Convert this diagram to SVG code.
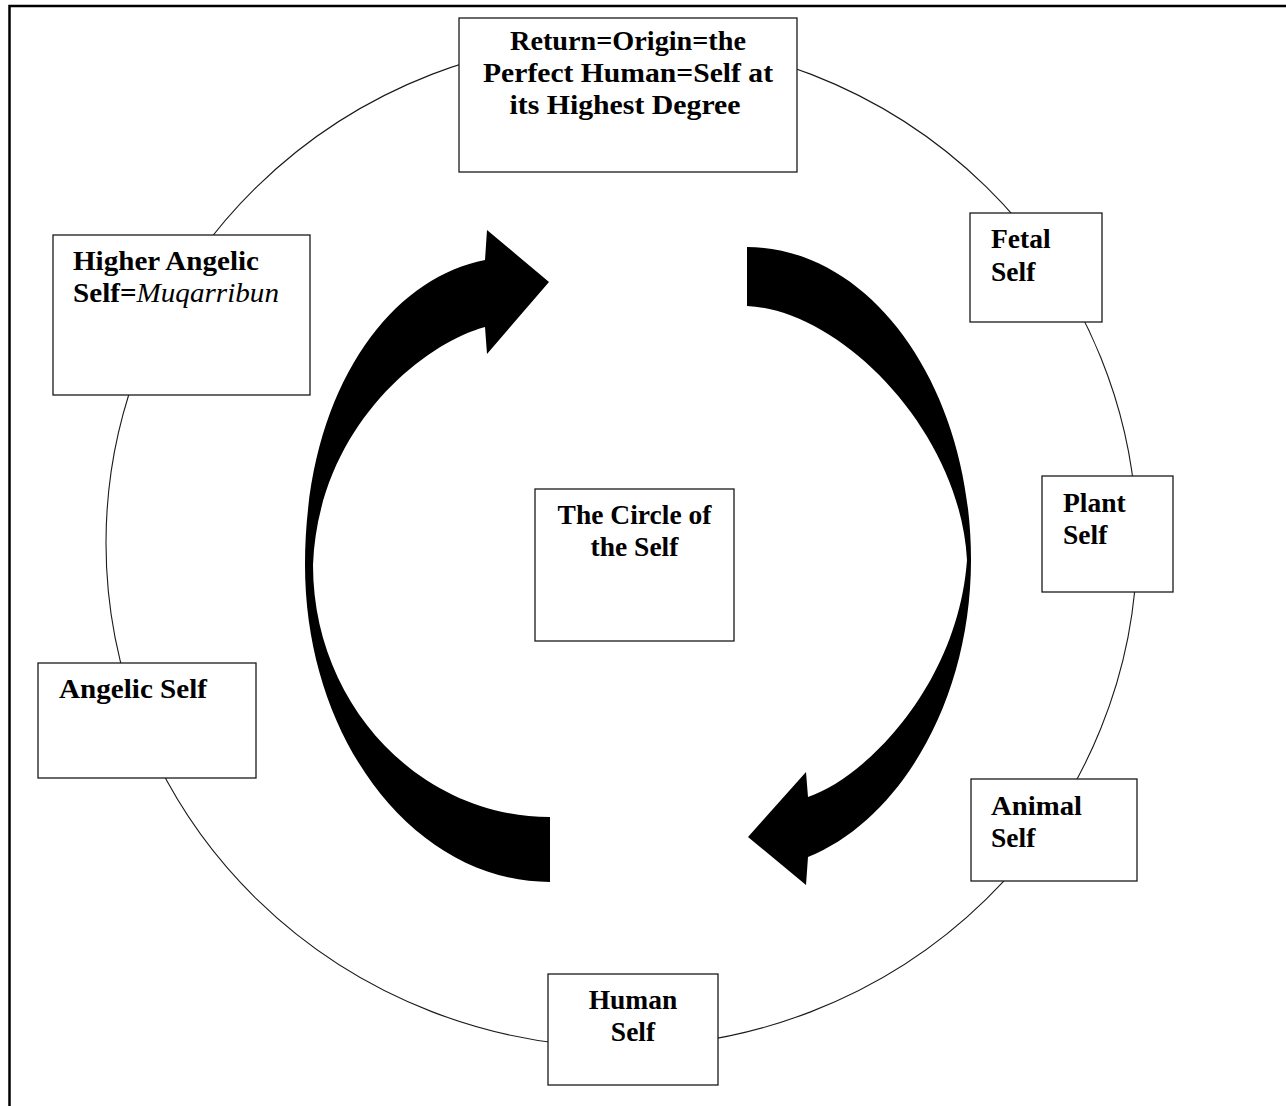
<svg xmlns="http://www.w3.org/2000/svg" width="1286" height="1106" viewBox="0 0 1286 1106">
<style>
.box{fill:#fff;stroke:#1a1a1a;stroke-width:1.3}
.t{font-family:"Liberation Serif","Times New Roman",serif;font-weight:bold;font-size:27.5px;fill:#000}
.c{text-anchor:middle}
.it{font-style:italic;font-weight:normal}
.ring{fill:none;stroke:#1a1a1a;stroke-width:1.1}
.arrow{fill:#000}
</style>
<rect width="1286" height="1106" fill="#fff"/>
<path d="M9.5,1106 V6 H1286" fill="none" stroke="#000" stroke-width="2.5"/>
<g id="connectors">
  <ellipse class="ring" cx="621.5" cy="543" rx="515.5" ry="504"/>
  <path class="arrow" d="M550,817 L550,882 C415,882 305,740 305,565 C305,390 390,278 485,260 L487,230 L549,282 L487,354 L485,327 C420,345 318,430 313,565 C313,704 419,817 550,817 Z"/>
  <path class="arrow" d="M747,247 C871,247 971,387 971,560 C971,700 900,820 808,857 L806,885 L748,837 L806,772 L808,797 C865,778 958,685 967,560 C960,430 840,310 747,306 Z"/>
</g>
<g id="node-return">
  <rect class="box" x="459" y="18" width="338" height="154"/>
  <text class="t c" x="628" y="50" textLength="236" lengthAdjust="spacingAndGlyphs">Return=Origin=the</text>
  <text class="t c" x="628" y="82" textLength="290" lengthAdjust="spacingAndGlyphs">Perfect Human=Self at</text>
  <text class="t c" x="625" y="114" textLength="231" lengthAdjust="spacingAndGlyphs">its Highest Degree</text>
</g>
<g id="node-higher-angelic">
  <rect class="box" x="53" y="235" width="257" height="160"/>
  <text class="t" x="73" y="270" textLength="186" lengthAdjust="spacingAndGlyphs">Higher Angelic</text>
  <text class="t" x="73" y="302" textLength="206" lengthAdjust="spacingAndGlyphs">Self=<tspan class="it">Muqarribun</tspan></text>
</g>
<g id="node-fetal">
  <rect class="box" x="970" y="213" width="132" height="109"/>
  <text class="t" x="991" y="248">Fetal</text>
  <text class="t" x="991" y="281">Self</text>
</g>
<g id="node-plant">
  <rect class="box" x="1042" y="476" width="131" height="116"/>
  <text class="t" x="1063" y="512">Plant</text>
  <text class="t" x="1063" y="544">Self</text>
</g>
<g id="node-center">
  <rect class="box" x="535" y="489" width="199" height="152"/>
  <text class="t c" x="634.5" y="524">The Circle of</text>
  <text class="t c" x="634.5" y="556">the Self</text>
</g>
<g id="node-angelic">
  <rect class="box" x="38" y="663" width="218" height="115"/>
  <text class="t" x="59" y="698" textLength="148" lengthAdjust="spacingAndGlyphs">Angelic Self</text>
</g>
<g id="node-animal">
  <rect class="box" x="971" y="779" width="166" height="102"/>
  <text class="t" x="991" y="815" textLength="91" lengthAdjust="spacingAndGlyphs">Animal</text>
  <text class="t" x="991" y="847">Self</text>
</g>
<g id="node-human">
  <rect class="box" x="548" y="974" width="170" height="111"/>
  <text class="t c" x="633" y="1009">Human</text>
  <text class="t c" x="633" y="1041">Self</text>
</g>
</svg>
